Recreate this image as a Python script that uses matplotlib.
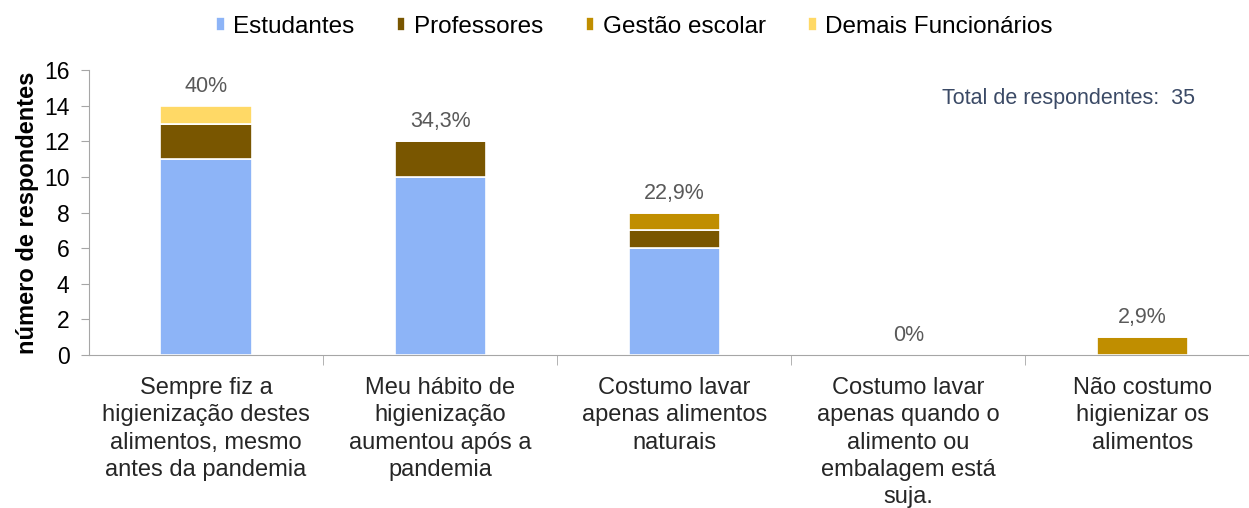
import matplotlib.pyplot as plt
import numpy as np

plt.rcParams['font.family'] = ['Liberation Sans', 'DejaVu Sans']

categorias = ["Sempre fiz a\nhigienização destes\nalimentos, mesmo\nantes da pandemia",
              "Meu hábito de\nhigienização\naumentou após a\npandemia",
              "Costumo lavar\napenas alimentos\nnaturais",
              "Costumo lavar\napenas quando o\nalimento ou\nembalagem está\nsuja.",
              "Não costumo\nhigienizar os\nalimentos"]
estudantes = [11, 10, 6, 0, 0]
professores = [2, 2, 1, 0, 0]
gestao = [0, 0, 1, 0, 1]
demais = [1, 0, 0, 0, 0]
percentuais = ["40%", "34,3%", "22,9%", "0%", "2,9%"]

series = [("Estudantes", estudantes, "#8db4f7"),
          ("Professores", professores, "#795600"),
          ("Gestão escolar", gestao, "#c08e00"),
          ("Demais Funcionários", demais, "#ffd966")]

fig = plt.figure(figsize=(12.49, 5.08), dpi=100)
ax = fig.add_axes([0.0713, 0.301, 0.937, 0.561])

x = np.arange(len(categorias))
base = np.zeros(len(categorias))
for nome, vals, cor in series:
    ax.bar(x, vals, 0.39, bottom=base, color=cor, edgecolor='white', linewidth=1.2, label=nome)
    base += np.array(vals)

# rótulos de percentual acima das barras
for xi, tot, p in zip(x, base, percentuais):
    ax.text(xi, tot + 1.1, p, ha='center', va='center', fontsize=15.5, color='#595959')

ax.set_xlim(-0.5, len(categorias) - 0.5)
ax.set_ylim(0, 16)
ax.set_yticks(range(0, 17, 2))
ax.tick_params(axis='y', labelsize=16.5, length=6, color='#a6a6a6', pad=8)
ax.set_xticks(x)
ax.set_xticklabels(categorias, fontsize=17, color='#262626', linespacing=1.3)
ax.tick_params(axis='x', length=0, pad=16)
ax.set_xticks(np.arange(0.5, len(categorias) - 0.5, 1), minor=True)
ax.tick_params(axis='x', which='minor', length=7, color='#a6a6a6')
ax.set_ylabel("número de respondentes", fontsize=17, fontweight='bold', labelpad=4)

for s in ['top', 'right']:
    ax.spines[s].set_visible(False)
ax.spines['left'].set_color('#a6a6a6')
ax.spines['bottom'].set_color('#a6a6a6')

ax.text(0.945, 0.9, "Total de respondentes:  35", transform=ax.transAxes, ha='right', va='center',
        fontsize=15.5, color='#3b4a66')

fig.legend(loc='center', bbox_to_anchor=(0.508, 0.947), ncol=4, frameon=False, fontsize=17.5,
           handlelength=0.35, handleheight=0.5, handletextpad=0.35, columnspacing=1.75)

fig.savefig("out.png", dpi=100)
